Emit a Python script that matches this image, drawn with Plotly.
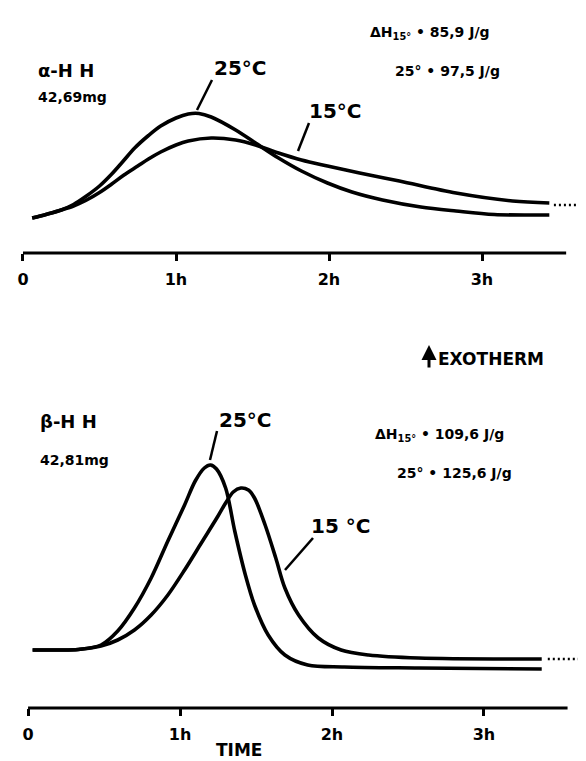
import plotly.graph_objects as go

W, H = 586, 761

# ---- data (time in hours, heat flow in arbitrary units, exotherm up) ----
# alpha-HH, 42.69 mg
a25_t = [0.06, 0.15, 0.25, 0.33, 0.41, 0.50, 0.58, 0.65, 0.73, 0.82, 0.90, 1.00, 1.08, 1.15, 1.23, 1.39, 1.52, 1.67, 1.82, 1.99, 2.15, 2.35, 2.60, 2.83, 3.08, 3.44]
a25_q = [0.2, 0.55, 1.0, 1.55, 2.35, 3.4, 4.6, 5.8, 7.2, 8.45, 9.4, 10.2, 10.6, 10.65, 10.3, 9.0, 7.7, 6.2, 4.9, 3.7, 2.8, 2.0, 1.3, 0.9, 0.55, 0.5]
a15_t = [0.06, 0.15, 0.25, 0.33, 0.41, 0.50, 0.58, 0.66, 0.75, 0.82, 0.90, 1.00, 1.08, 1.23, 1.39, 1.52, 1.67, 1.82, 1.99, 2.20, 2.46, 2.83, 3.20, 3.44]
a15_q = [0.2, 0.55, 1.0, 1.4, 1.95, 2.75, 3.6, 4.5, 5.4, 6.1, 6.8, 7.5, 7.9, 8.2, 8.0, 7.5, 6.7, 6.0, 5.4, 4.7, 3.9, 2.7, 1.9, 1.7]
a15_tail_t = [3.47, 3.73]
a15_tail_q = [1.5, 1.5]

# beta-HH, 42.81 mg
b25_t = [0.03, 0.20, 0.33, 0.48, 0.59, 0.70, 0.81, 0.92, 1.03, 1.10, 1.16, 1.20, 1.24, 1.30, 1.36, 1.43, 1.49, 1.58, 1.69, 1.84, 2.08, 2.57, 3.38]
b25_q = [0.3, 0.3, 0.35, 0.8, 2.2, 4.5, 7.5, 11.2, 14.8, 17.2, 18.5, 18.8, 18.4, 16.5, 12.2, 7.8, 4.8, 1.8, -0.2, -1.2, -1.4, -1.5, -1.6]
b15_t = [0.03, 0.20, 0.33, 0.48, 0.59, 0.70, 0.81, 0.92, 1.03, 1.14, 1.25, 1.30, 1.35, 1.40, 1.45, 1.49, 1.56, 1.63, 1.69, 1.78, 1.91, 2.06, 2.24, 2.57, 3.38]
b15_q = [0.3, 0.3, 0.35, 0.7, 1.3, 2.3, 3.8, 5.8, 8.3, 11.0, 13.7, 15.0, 16.1, 16.5, 16.3, 15.5, 12.8, 9.5, 6.5, 3.8, 1.5, 0.3, -0.2, -0.5, -0.6]
b15_tail_t = [3.42, 3.68]
b15_tail_q = [-0.6, -0.6]

tick_vals = [0, 1, 2, 3]
tick_text = ["0", "1h", "2h", "3h"]

FONT = "DejaVu Sans, Liberation Sans, Arial, sans-serif"
LW = 3.6

def X(px):
    return px / W

def Y(py):
    return 1 - py / H

fig = go.Figure()

def curve(t, q, xa, ya):
    fig.add_trace(go.Scatter(x=t, y=q, mode="lines", xaxis=xa, yaxis=ya,
                             line=dict(color="black", width=LW, shape="spline", smoothing=0.9),
                             showlegend=False, hoverinfo="skip"))

def dotted(t, q, xa, ya):
    fig.add_trace(go.Scatter(x=t, y=q, mode="lines", xaxis=xa, yaxis=ya,
                             line=dict(color="black", width=2.5, dash="2px,3px"),
                             showlegend=False, hoverinfo="skip"))

curve(a25_t, a25_q, "x", "y")
curve(a15_t, a15_q, "x", "y")
dotted(a15_tail_t, a15_tail_q, "x", "y")
curve(b25_t, b25_q, "x2", "y2")
curve(b15_t, b15_q, "x2", "y2")
dotted(b15_tail_t, b15_tail_q, "x2", "y2")

axis_common = dict(tickvals=tick_vals, ticktext=tick_text, ticks="outside", ticklen=7,
                   tickwidth=2.5, tickcolor="black", showline=False, showgrid=False,
                   zeroline=False, ticklabelstandoff=5,
                   tickfont=dict(family=FONT, size=16, color="black", weight="bold"))

fig.update_layout(
    width=W, height=H,
    margin=dict(l=0, r=0, t=0, b=0),
    paper_bgcolor="white", plot_bgcolor="white",
    xaxis=dict(domain=[0, 1], range=[-0.098, 3.732], anchor="y", **axis_common),
    yaxis=dict(domain=[Y(245), Y(90)], range=[-3.3, 12.2], visible=False),
    xaxis2=dict(domain=[0, 1], range=[-0.132, 3.724], anchor="y2", **axis_common),
    yaxis2=dict(domain=[Y(700), Y(440)], range=[-5.5, 20.5], visible=False),
)

shapes = []
# time axes lines
shapes.append(dict(type="line", xref="x", yref="y domain", x0=0, x1=3.55, y0=0, y1=0,
                   line=dict(color="black", width=3)))
shapes.append(dict(type="line", xref="x2", yref="y2 domain", x0=0, x1=3.55, y0=0, y1=0,
                   line=dict(color="black", width=3)))
# leader lines
for (x0, y0, x1, y1) in [(204, 72, 189, 102), (301, 115, 290, 143),
                         (209, 423, 202, 452), (305, 530, 277, 562)]:
    shapes.append(dict(type="line", xref="paper", yref="paper",
                       x0=X(x0), y0=Y(y0), x1=X(x1), y1=Y(y1),
                       line=dict(color="black", width=2.5)))
fig.update_layout(shapes=shapes)

def txt(s, px, py, size, anchor="left"):
    fig.add_annotation(text=s, x=X(px), y=Y(py), xref="paper", yref="paper",
                       xanchor=anchor, yanchor="middle", showarrow=False,
                       font=dict(family=FONT, size=size, color="black", weight="bold"))

# top panel labels
txt("α-H H", 28, 62, 18)
txt("42,69mg", 28, 89, 14)
txt("25°C", 232, 60, 20, "center")
txt("15°C", 327, 103, 20, "center")
txt("ΔH<sub>15°</sub> • 85,9 J/g", 360, 25, 14)
txt("25° • 97,5 J/g", 385, 63, 14)

# bottom panel labels
txt("β-H H", 30, 413, 18)
txt("42,81mg", 30, 452, 14)
txt("25°C", 237, 412, 20, "center")
txt("15 °C", 332, 518, 20, "center")
txt("ΔH<sub>15°</sub> • 109,6 J/g", 365, 427, 14)
txt("25° • 125,6 J/g", 387, 465, 14)

txt("TIME", 231, 742, 17, "center")

# exotherm arrow
fig.add_annotation(x=X(421), y=Y(337), xref="paper", yref="paper",
                   ax=0, ay=24, axref="pixel", ayref="pixel",
                   text="", showarrow=True, arrowhead=2, arrowsize=1, arrowwidth=3,
                   arrowcolor="black")
txt("EXOTHERM", 428, 351, 17)

fig.write_html("out.html")
